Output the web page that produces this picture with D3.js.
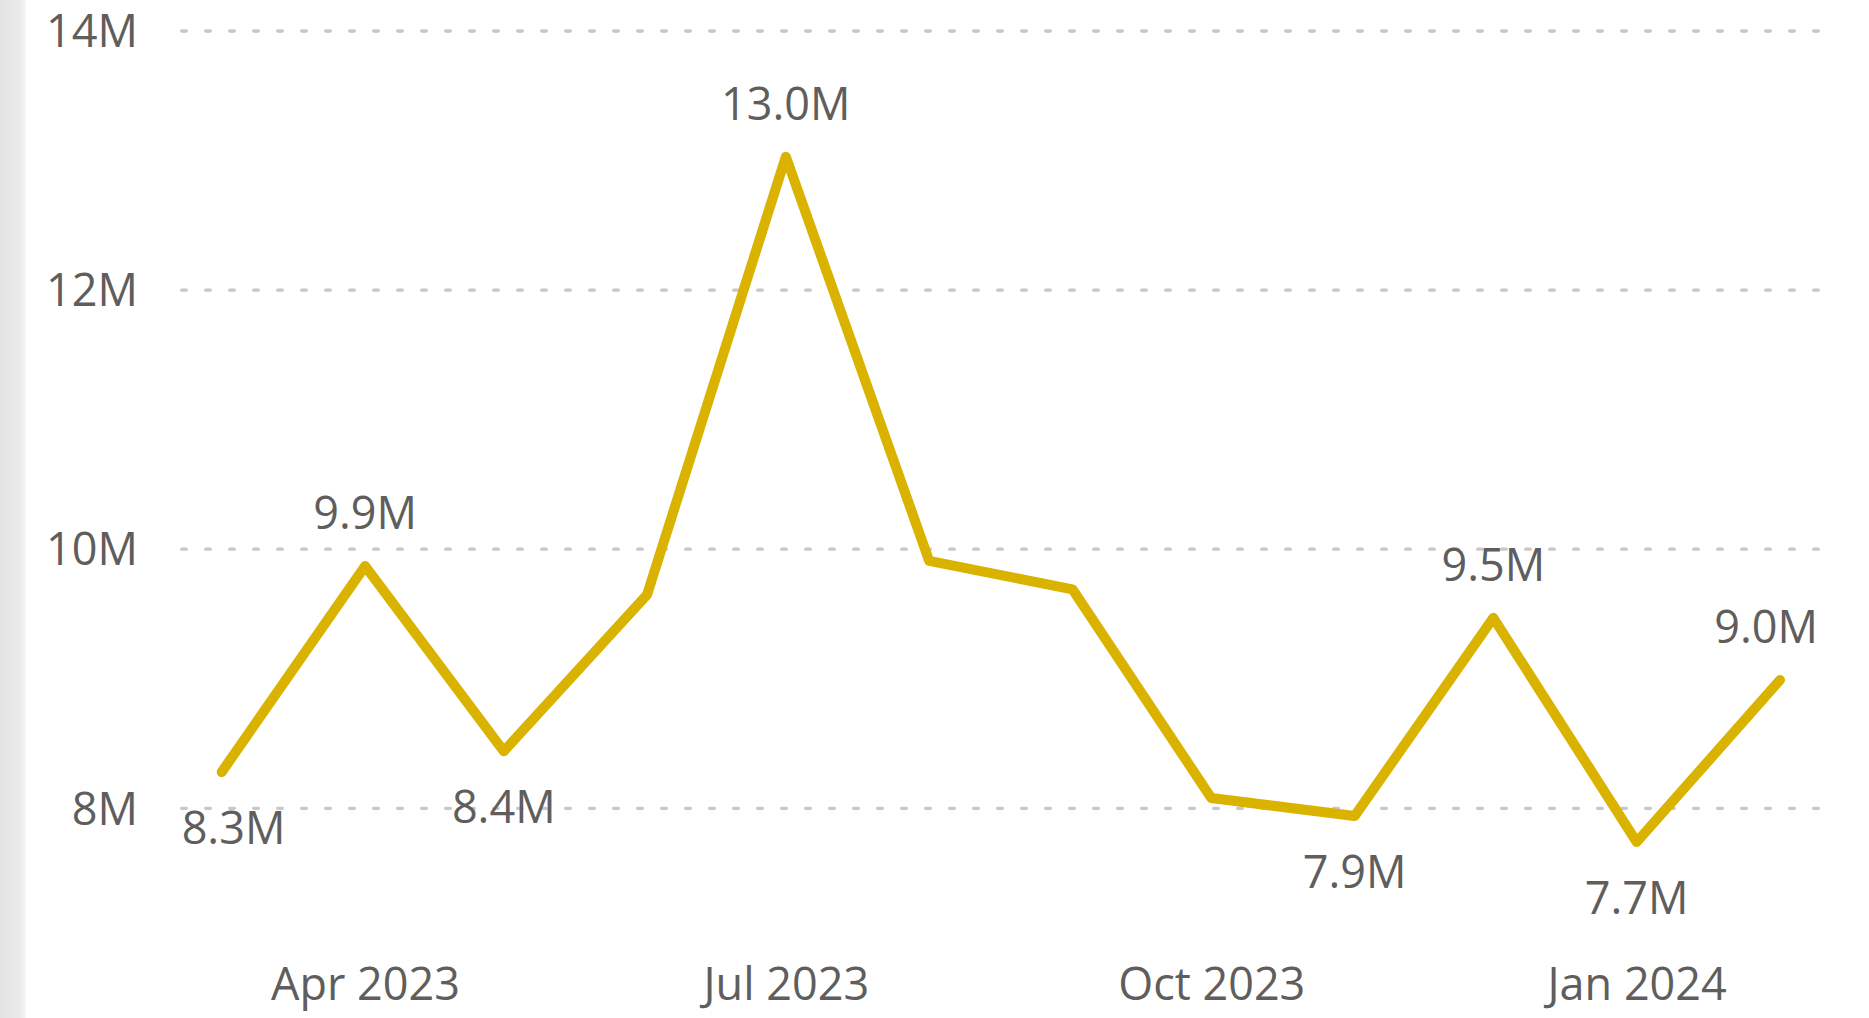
<!DOCTYPE html>
<html>
<head>
<meta charset="utf-8">
<script src="https://cdn.jsdelivr.net/npm/d3@7"></script>
<style>
  html, body { margin: 0; padding: 0; background: #fff; }
  svg { display: block; }
  text { font-family: "Segoe UI", "Open Sans", sans-serif; }
</style>
</head>
<body>
<div id="chart"></div>
<script>
// monthly values, millions
let months = ["2023-03", "2023-04", "2023-05", "2023-06", "2023-07", "2023-08",
              "2023-09", "2023-10", "2023-11", "2023-12", "2024-01", "2024-02"];
let values = [8.28, 9.87, 8.44, 9.65, 13.03, 9.91, 9.69, 8.08, 7.94, 9.47, 7.74, 8.99];
// where the data label goes ("" = no label)
let labelSide = ["below", "above", "below", "", "above", "", "", "", "below", "above", "below", "above"];

let yTicks = [8, 10, 12, 14];
let xTicks = ["2023-04", "2023-07", "2023-10", "2024-01"];

let width = 1869;
let height = 1018;
let textColor = "#605E5C";
let lineColor = "#D9B300";
let fontSize = 45;

let parseMonth = d3.utcParse("%Y-%m");
let data = months.map((m, i) => ({ date: parseMonth(m), value: values[i], side: labelSide[i] }));

let gridLeft = 181.65, gridRight = 1818.4;

let x = d3.scaleUtc()
  .domain(d3.extent(data, d => d.date))
  .range([221.7, 1780]);

let y = d3.scaleLinear()
  .domain([8, 14])
  .range([808.3, 31]);

const svg = d3.select("#chart").append("svg")
  .attr("width", width)
  .attr("height", height);

// grey strip on the left edge
let grad = svg.append("defs").append("linearGradient").attr("id", "edge");
grad.append("stop").attr("offset", "0%").attr("stop-color", "#e4e4e4");
grad.append("stop").attr("offset", "70%").attr("stop-color", "#e9e9e9");
grad.append("stop").attr("offset", "100%").attr("stop-color", "#f6f6f6");
svg.append("rect").attr("x", 0).attr("y", 0).attr("width", 26).attr("height", height).attr("fill", "url(#edge)");

// gridlines
svg.append("g")
  .selectAll("line")
  .data(yTicks)
  .join("line")
    .attr("x1", gridLeft)
    .attr("x2", gridRight)
    .attr("y1", d => y(d))
    .attr("y2", d => y(d))
    .attr("stroke", "#c8c8c8")
    .attr("stroke-width", 3.3)
    .attr("stroke-linecap", "round")
    .attr("stroke-dasharray", "4.7 19.3");

// y axis
let yAxis = svg.append("g")
  .attr("transform", "translate(138,0)")
  .call(d3.axisLeft(y).tickValues(yTicks).tickSize(0).tickPadding(0).tickFormat(d => d + "M"));
yAxis.select(".domain").remove();
yAxis.selectAll("text")
  .attr("dy", "0.35em")
  .attr("fill", textColor)
  .style("font-size", fontSize + "px");

// x axis
let xAxis = svg.append("g")
  .attr("transform", "translate(0,968)")
  .call(d3.axisBottom(x).tickValues(xTicks.map(parseMonth)).tickSize(0).tickPadding(0).tickFormat(d3.utcFormat("%b %Y")));
xAxis.select(".domain").remove();
xAxis.selectAll("text")
  .attr("fill", textColor)
  .style("font-size", fontSize + "px");

// the line
let line = d3.line()
  .x(d => x(d.date))
  .y(d => y(d.value));

svg.append("path")
  .datum(data)
  .attr("d", line)
  .attr("fill", "none")
  .attr("stroke", lineColor)
  .attr("stroke-width", 10)
  .attr("stroke-linejoin", "round")
  .attr("stroke-linecap", "round");

// data labels
let fmt = d3.format(".1f");
let labels = svg.append("g")
  .selectAll("text")
  .data(data.filter(d => d.side))
  .join("text")
    .attr("text-anchor", "middle")
    .attr("fill", textColor)
    .style("font-size", fontSize + "px")
    .attr("y", d => y(d.value) + (d.side == "above" ? -37 : 72))
    .text(d => fmt(d.value) + "M");

// keep labels inside the plot
labels.attr("x", function(d) {
  let w = this.getComputedTextLength();
  let cx = x(d.date);
  if (cx - w / 2 < gridLeft) cx = gridLeft + w / 2;
  if (cx + w / 2 > 1818) cx = 1818 - w / 2;
  return cx;
});
</script>
</body>
</html>
